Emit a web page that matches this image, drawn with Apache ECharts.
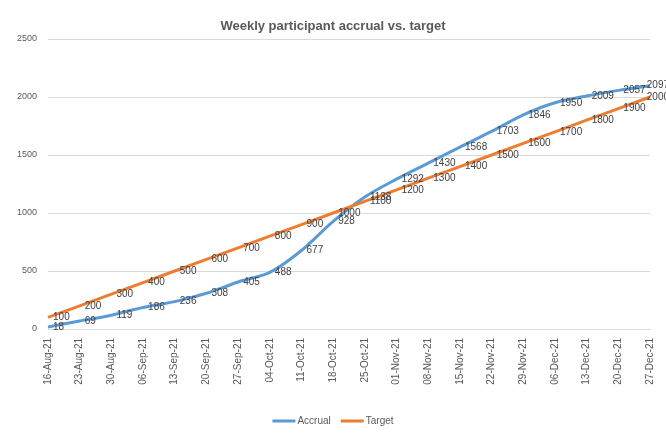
<!DOCTYPE html>
<html>
<head>
<meta charset="utf-8">
<script src="https://cdn.jsdelivr.net/npm/echarts@6/dist/echarts.min.js"></script>
<style>
  html, body { margin: 0; padding: 0; background: #fff; }
  #chart { width: 666px; height: 441px; }
</style>
</head>
<body>
<div id="chart"></div>
<script>
  // week starting dates
  var weeks = ['16-Aug-21', '23-Aug-21', '30-Aug-21', '06-Sep-21', '13-Sep-21', '20-Sep-21',
               '27-Sep-21', '04-Oct-21', '11-Oct-21', '18-Oct-21', '25-Oct-21', '01-Nov-21',
               '08-Nov-21', '15-Nov-21', '22-Nov-21', '29-Nov-21', '06-Dec-21', '13-Dec-21',
               '20-Dec-21', '27-Dec-21'];
  var accrual = [18, 69, 119, 186, 236, 308, 405, 488, 677, 928,
                 1138, 1292, 1430, 1568, 1703, 1846, 1950, 2009, 2057, 2097];
  var target = [100, 200, 300, 400, 500, 600, 700, 800, 900, 1000,
                1100, 1200, 1300, 1400, 1500, 1600, 1700, 1800, 1900, 2000];

  var font = "'Liberation Sans Narrow', 'Liberation Sans', sans-serif";

  var labelStyle = {
    show: true,
    position: 'right',
    distance: 5,
    color: '#404040',
    fontSize: 10,
    fontFamily: font
  };

  // keep right-most labels from running far past the canvas edge
  var clampLabel = function(p){
    var r = p.labelRect;
    if (r.x + r.width > 669) {
      return { x: 669 - r.width, y: r.y, align: 'left', verticalAlign: 'top' };
    }
  };

  var chart = echarts.init(document.getElementById('chart'));
  chart.setOption({
    animation: false,
    title: {
      text: 'Weekly participant accrual vs. target',
      left: 'center',
      top: 15,
      textStyle: { color: '#595959', fontSize: 13, fontWeight: 'bold', fontFamily: font }
    },
    legend: {
      bottom: 10,
      left: 'center',
      itemWidth: 23,
      itemHeight: 3,
      itemGap: 10,
      icon: 'rect',
      textStyle: { color: '#595959', fontSize: 10, fontFamily: font, padding: [0, 0, 0, -3] },
      data: ['Accrual', 'Target']
    },
    grid: { left: 48, right: 16, top: 39, bottom: 112 },
    xAxis: {
      type: 'category',
      data: weeks,
      boundaryGap: false,
      axisLine: { show: true, lineStyle: { color: '#d9d9d9' } },
      axisTick: { show: false },
      axisLabel: { rotate: 90, interval: 0, color: '#595959', fontSize: 10, fontFamily: font, margin: 9 }
    },
    yAxis: {
      type: 'value',
      min: 0,
      max: 2500,
      interval: 500,
      axisLine: { show: false },
      axisTick: { show: false },
      axisLabel: { color: '#595959', fontSize: 9, fontFamily: font, margin: 11, formatter: function(v){ return String(v); } },
      splitLine: { lineStyle: { color: '#d9d9d9' } }
    },
    series: [
      {
        name: 'Accrual',
        type: 'line',
        data: accrual,
        smooth: 0.3,
        symbol: 'circle',
        symbolSize: 0.1,
        showSymbol: true,
        showAllSymbol: true,
        lineStyle: { color: '#5B9BD5', width: 3 },
        itemStyle: { color: '#5B9BD5' },
        label: labelStyle,
        labelLayout: clampLabel
      },
      {
        name: 'Target',
        type: 'line',
        data: target,
        symbol: 'circle',
        symbolSize: 0.1,
        showSymbol: true,
        showAllSymbol: true,
        lineStyle: { color: '#ED7D31', width: 3 },
        itemStyle: { color: '#ED7D31' },
        label: labelStyle,
        labelLayout: clampLabel
      }
    ]
  });
</script>
</body>
</html>
